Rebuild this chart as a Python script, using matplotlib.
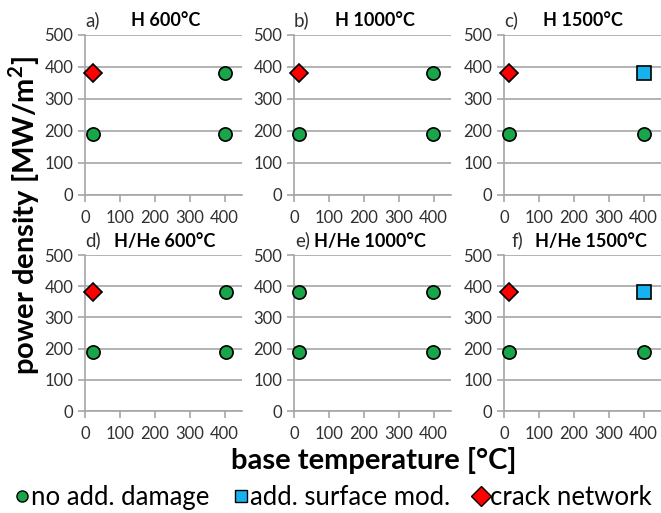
import matplotlib
matplotlib.use('Agg')
import matplotlib.pyplot as plt
from matplotlib.lines import Line2D

plt.rcParams['font.family'] = ['Lato', 'DejaVu Sans']

### Data
letters = ['a)', 'b)', 'c)', 'd)', 'e)', 'f)']
titles = ['H 600°C', 'H 1000°C', 'H 1500°C', 'H/He 600°C', 'H/He 1000°C', 'H/He 1500°C']

# no add. damage (green circles)
none_x = [[400, 22, 400], [397, 15, 397], [15, 400], [405, 22, 405], [15, 397, 15, 397], [15, 400]]
none_y = [[380, 192, 192], [380, 192, 192], [192, 192], [380, 190, 190], [380, 380, 190, 190], [190, 190]]
# add. surface mod. (blue squares)
surf_x = [[], [], [400], [], [], [400]]
surf_y = [[], [], [382], [], [], [380]]
# crack network (red diamonds)
crack_x = [[22], [15], [15], [22], [], [15]]
crack_y = [[382], [382], [382], [380], [], [380]]

y_ticks = [0, 100, 200, 300, 400, 500]
x_ticks = [0, 100, 200, 300, 400]

green = '#19A64A'
blue = '#16B2EE'
red = '#FF0000'
grey = '#A6A6A6'

fig = plt.figure(figsize=(6.61, 5.13), dpi=100)

lefts = [0.1286, 0.4448, 0.7625]
bottoms = [0.6199, 0.1988]
heights = [0.312, 0.304]
width = 0.2375
# where the panel letter and the bold title start (axes fraction)
letter_pos = [0.0, 0.0, 0.0, 0.0, 0.01, 0.05]
title_pos = [0.29, 0.26, 0.25, 0.185, 0.13, 0.20]

for i in range(6):
    r, c = divmod(i, 3)
    ax = fig.add_axes([lefts[c], bottoms[r], width, heights[r]])
    ax.set_xlim(0, 450)
    ax.set_ylim(0, 500)
    ax.set_yticks(y_ticks)
    ax.set_xticks(x_ticks)
    ax.grid(axis='y', color=grey, lw=1.2)
    ax.set_axisbelow(True)
    for s in ['top', 'right']:
        ax.spines[s].set_visible(False)
    for s in ['left', 'bottom']:
        ax.spines[s].set_color(grey)
        ax.spines[s].set_linewidth(1.2)
    ax.tick_params(colors=grey, labelcolor='#303030', labelsize=12, length=5, width=1.2)
    ax.tick_params(axis='x', pad=6)

    ax.plot(none_x[i], none_y[i], 'o', ms=9.5, mfc=green, mec='black', mew=1.2, ls='none',
            clip_on=False, zorder=4)
    ax.plot(surf_x[i], surf_y[i], 's', ms=10, mfc=blue, mec='black', mew=1.2, ls='none',
            clip_on=False, zorder=4)
    ax.plot(crack_x[i], crack_y[i], 'D', ms=9.5, mfc=red, mec='black', mew=1.2, ls='none',
            clip_on=False, zorder=4)

    ax.text(letter_pos[i], 1.035, letters[i], transform=ax.transAxes, fontsize=13.5, color='#303030',
            ha='left', va='bottom')
    ax.text(title_pos[i], 1.035, titles[i], transform=ax.transAxes, fontsize=13, fontweight='bold',
            ha='left', va='bottom')

fig.text(0.036, 0.58, 'power density [MW/m$^\\mathregular{2}$]', rotation=90, fontsize=21, fontweight='bold',
         ha='center', va='center')
fig.text(0.566, 0.103, 'base temperature [°C]', fontsize=21, fontweight='bold', ha='center', va='center')

handles = [
    Line2D([], [], marker='o', ls='none', ms=8, mfc=green, mec='black', mew=1),
    Line2D([], [], marker='s', ls='none', ms=9, mfc=blue, mec='black', mew=1),
    Line2D([], [], marker='D', ls='none', ms=10, mfc=red, mec='black', mew=1),
]
labels = ['no add. damage', 'add. surface mod.', 'crack network']
fig.legend(handles, labels, loc='center', bbox_to_anchor=(0.505, 0.03), ncol=3, frameon=False,
           fontsize=18.5, handlelength=0.5, handletextpad=0.12, columnspacing=0.95, borderaxespad=0,
           borderpad=0)

fig.savefig('out.png', dpi=100)
